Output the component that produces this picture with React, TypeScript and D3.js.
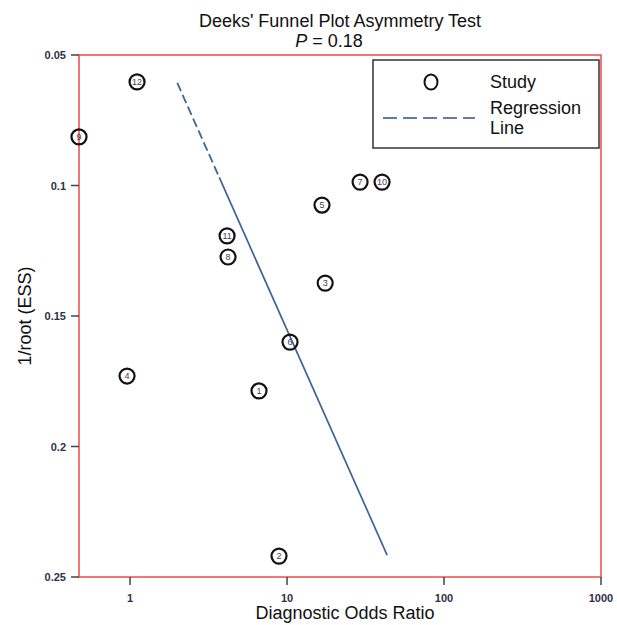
import React from "react";
import * as d3 from "d3";

const studyIds = [1, 2, 3, 4, 5, 6, 7, 8, 9, 10, 11, 12];
const diagnosticOddsRatio = [6.63, 8.89, 17.5, 0.957, 16.7, 10.45, 29.2, 4.21, 0.473, 40.3, 4.15, 1.108];
const invRootEss = [0.1787, 0.242, 0.1374, 0.173, 0.1075, 0.16, 0.0987, 0.1274, 0.0814, 0.0987, 0.1193, 0.0603];

const regressionDor = [2.0, 43.4];
const regressionInvRootEss = [0.0607, 0.2416];

const xTicks = [1, 10, 100, 1000];
const yTicks = [0.05, 0.1, 0.15, 0.2, 0.25];

const W = 617;
const H = 625;
const left = 79;
const right = 601;
const top = 55;
const bottom = 577;

export default function App() {
  const x = d3.scaleLog().domain([0.473, 1000]).range([left, right]);
  const y = d3.scaleLinear().domain([0.05, 0.25]).range([top, bottom]);

  const x0 = x(regressionDor[0]);
  const y0 = y(regressionInvRootEss[0]);
  const x1 = x(regressionDor[1]);
  const y1 = y(regressionInvRootEss[1]);
  const split = 0.2;
  const xs = x0 + (x1 - x0) * split;
  const ys = y0 + (y1 - y0) * split;

  const font = "'Liberation Sans', Arial, sans-serif";
  const tickColor = "#2f2f48";
  const lineColor = "#3d6595";

  return (
    <svg
      width={W}
      height={H}
      style={{ position: "absolute", left: 0, top: 0, background: "#fff" }}
      fontFamily={font}
    >
      <rect x={0} y={0} width={W} height={H} fill="#fff" />
      {/* title */}
      <text x={340} y={27} textAnchor="middle" fontSize={18} fill="#111">
        Deeks' Funnel Plot Asymmetry Test
      </text>
      <text x={329} y={47} textAnchor="middle" fontSize={18} fill="#111">
        <tspan fontStyle="italic">P</tspan>
        <tspan> = 0.18</tspan>
      </text>

      {/* plot border */}
      <rect
        x={left}
        y={top}
        width={right - left}
        height={bottom - top}
        fill="none"
        stroke="#f05555"
        strokeWidth={1.6}
      />

      {/* y ticks */}
      {yTicks.map((t) => (
        <g key={"y" + t}>
          <line x1={left - 8} x2={left} y1={y(t)} y2={y(t)} stroke="#444" strokeWidth={1.5} />
          <text x={left - 13} y={y(t) + 4} textAnchor="end" fontSize={11} fontWeight={600} fill={tickColor}>
            {String(t)}
          </text>
        </g>
      ))}
      {/* x ticks */}
      {xTicks.map((t) => (
        <g key={"x" + t}>
          <line x1={x(t)} x2={x(t)} y1={bottom} y2={bottom + 8} stroke="#444" strokeWidth={1.5} />
          <text x={x(t)} y={bottom + 25} textAnchor="middle" fontSize={11} fontWeight={600} fill={tickColor}>
            {String(t)}
          </text>
        </g>
      ))}

      {/* axis titles */}
      <text x={345} y={619} textAnchor="middle" fontSize={18} fill="#111">
        Diagnostic Odds Ratio
      </text>
      <text
        transform={`translate(31, 316) rotate(-90)`}
        textAnchor="middle"
        fontSize={18}
        fill="#111"
      >
        1/root (ESS)
      </text>

      {/* regression line */}
      <line x1={x0} y1={y0} x2={xs} y2={ys} stroke={lineColor} strokeWidth={1.8} strokeDasharray="9,4" />
      <line x1={xs} y1={ys} x2={x1} y2={y1} stroke={lineColor} strokeWidth={1.7} />

      {/* points */}
      {studyIds.map((id, i) => {
        const cx = x(diagnosticOddsRatio[i]);
        const cy = y(invRootEss[i]);
        return (
          <g key={"p" + id}>
            <circle cx={cx} cy={cy} r={7.5} fill="none" stroke="#111" strokeWidth={2.2} />
            <text x={cx} y={cy + 3.2} textAnchor="middle" fontSize={9} fill="#4a3d5c">
              {id}
            </text>
          </g>
        );
      })}

      {/* legend */}
      <rect x={373} y={60} width={226} height={88} fill="#fff" stroke="#333" strokeWidth={1.5} />
      <ellipse cx={431} cy={82} rx={6.5} ry={7.5} fill="none" stroke="#111" strokeWidth={2} />
      <text x={490} y={88} fontSize={18} fill="#111">
        Study
      </text>
      <line x1={383} x2={475} y1={118} y2={118} stroke="#5b7fa8" strokeWidth={2} strokeDasharray="14,6" />
      <text x={490} y={114} fontSize={18} fill="#111">
        Regression
      </text>
      <text x={490} y={134} fontSize={18} fill="#111">
        Line
      </text>
    </svg>
  );
}
